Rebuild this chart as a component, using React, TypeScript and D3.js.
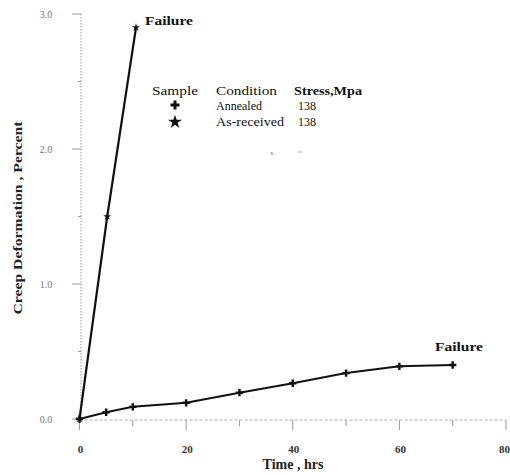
import React from "react";
import * as d3 from "d3";

const annealedTime = [0, 5, 10, 20, 30, 40, 50, 60, 70];
const annealedStrain = [0, 0.05, 0.09, 0.12, 0.195, 0.265, 0.34, 0.39, 0.4];
const asReceivedTime = [0, 5.2, 10.6];
const asReceivedStrain = [0, 1.5, 2.9];
const xTicks = [0, 10, 20, 30, 40, 50, 60, 70, 80];
const xTickLabels = [0, 20, 40, 60, 80];
const yTicks = [0, 0.5, 1, 1.5, 2, 2.5, 3];
const yTickLabels = ["0.0", "1.0", "2.0", "3.0"];
const legendRows = [
  { symbol: "+", condition: "Annealed", stress: "138" },
  { symbol: "*", condition: "As-received", stress: "138" },
];

export default function App() {
  const W = 510, H = 475;
  const x = d3.scaleLinear().domain([0, 80]).range([79.5, 506]);
  const y = d3.scaleLinear().domain([0, 3]).range([419, 14]);
  const line = d3.line<[number, number]>().x(d => x(d[0])).y(d => y(d[1]));
  const annealed: [number, number][] = annealedTime.map((t, i) => [t, annealedStrain[i]]);
  const asRec: [number, number][] = asReceivedTime.map((t, i) => [t, asReceivedStrain[i]]);
  const font = "'Liberation Serif', 'DejaVu Serif', serif";
  const plusPath = d3.symbol(d3.symbolCross, 30)();
  const starPath = d3.symbol(d3.symbolStar, 20)();
  const condLen = [46, 68];
  return (
    <svg width={W} height={H} style={{ position: "absolute", left: 0, top: 0, background: "#fff" }} fontFamily={font}>
      {/* axes */}
      <line x1={81} x2={81} y1={y(3)} y2={y(0)} stroke="#999" strokeWidth={1} strokeDasharray="1.5,1.5" />
      <line x1={x(0)} x2={x(80)} y1={420} y2={420} stroke="#aaa" strokeWidth={1} strokeDasharray="3,2" />
      {yTicks.map((t, i) => (
        <line key={"yt" + i} x1={t % 1 === 0 ? 72 : 78} x2={81} y1={y(t)} y2={y(t)} stroke="#999" strokeWidth={1} />
      ))}
      {xTicks.map((t, i) => (
        <line key={"xt" + i} x1={x(t)} x2={x(t)} y1={420} y2={t % 20 === 0 ? 430 : 426} stroke="#999" strokeWidth={1} />
      ))}
      {yTickLabels.map((l, i) => (
        <text key={"yl" + i} x={46} y={y(+l) + 4} fontSize={10} textAnchor="middle" fill="#777">{l}</text>
      ))}
      {xTickLabels.map((l, i) => (
        <text key={"xl" + i} x={l === 80 ? 510 : x(l) + 1} y={453} fontSize={11} fontWeight="bold"
          textAnchor={l === 80 ? "end" : "middle"} fill="#333">{l}</text>
      ))}
      <text x={293} y={469} fontSize={14} fontWeight="bold" textAnchor="middle" fill="#222">Time , hrs</text>
      <text transform="translate(22,218) rotate(-90)" fontSize={13} fontWeight="bold" textAnchor="middle"
        textLength={193} lengthAdjust="spacingAndGlyphs" fill="#222">Creep Deformation , Percent</text>

      {/* series */}
      <path d={line(annealed) || ""} fill="none" stroke="#111" strokeWidth={2} />
      <path d={line(asRec) || ""} fill="none" stroke="#111" strokeWidth={2.2} />
      {annealed.map((d, i) => (
        <path key={"pa" + i} d={plusPath || ""} transform={`translate(${x(d[0])},${y(d[1])})`} fill="#111" />
      ))}
      {asRec.map((d, i) => (
        <path key={"pr" + i} d={starPath || ""} transform={`translate(${x(d[0])},${y(d[1])})`} fill="#111" />
      ))}
      <text x={145} y={25} fontSize={13} fontWeight="bold" textLength={48} lengthAdjust="spacingAndGlyphs" fill="#111">Failure</text>
      <text x={435} y={351} fontSize={13} fontWeight="bold" textLength={48} lengthAdjust="spacingAndGlyphs" fill="#111">Failure</text>

      {/* legend */}
      <text x={152} y={95} fontSize={12} textLength={46} lengthAdjust="spacingAndGlyphs" fill="#111">Sample</text>
      <text x={216} y={95} fontSize={12} textLength={61} lengthAdjust="spacingAndGlyphs" fill="#111">Condition</text>
      <text x={294} y={95} fontSize={12} fontWeight="bold" textLength={68} lengthAdjust="spacingAndGlyphs" fill="#111">Stress,Mpa</text>
      {legendRows.map((r, i) => (
        <g key={"lg" + i}>
          {r.symbol === "+" ? (
            <path d={d3.symbol(d3.symbolCross, 45)() || ""} transform={`translate(175,${105})`} fill="#111" />
          ) : (
            <path d={d3.symbol(d3.symbolStar, 60)() || ""} transform={`translate(175,${122})`} fill="#111" />
          )}
          <text x={216} y={110 + i * 16} fontSize={12} textLength={condLen[i]} lengthAdjust="spacingAndGlyphs" fill="#111">{r.condition}</text>
          <text x={307} y={110 + i * 16} fontSize={12} textAnchor="middle" fill="#111">{r.stress}</text>
        </g>
      ))}
      <text x={270} y={155} fontSize={7} fill="#888">x</text>
      <line x1={298} x2={302} y1={152} y2={152} stroke="#aaa" />
    </svg>
  );
}
